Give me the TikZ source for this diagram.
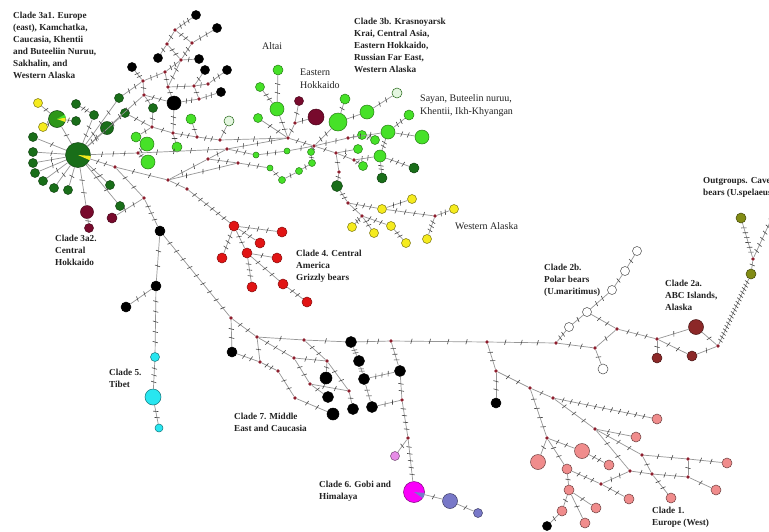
\documentclass[tikz,border=0pt]{standalone}
\usepackage{fontspec}
\setmainfont{Liberation Serif}
\usetikzlibrary{decorations.markings}
\definecolor{cEdge}{RGB}{150,150,150}
\definecolor{cTick}{RGB}{70,70,70}
\definecolor{cMed}{RGB}{140,30,45}
\definecolor{cDG}{RGB}{25,110,25}
\definecolor{cMG2}{RGB}{45,150,25}
\definecolor{cLG}{RGB}{70,225,40}
\definecolor{cPG}{RGB}{228,246,224}
\definecolor{cYe}{RGB}{245,235,30}
\definecolor{cMa}{RGB}{120,10,45}
\definecolor{cRe}{RGB}{225,20,20}
\definecolor{cSa}{RGB}{240,140,140}
\definecolor{cCy}{RGB}{40,230,240}
\definecolor{cMg}{RGB}{250,0,250}
\definecolor{cPb}{RGB}{120,120,200}
\definecolor{cPk}{RGB}{230,140,230}
\definecolor{cOl}{RGB}{130,140,20}
\definecolor{cAB}{RGB}{140,40,40}
\definecolor{cTx}{RGB}{35,35,35}
\tikzset{
  hap/.style={circle, inner sep=0pt, minimum size=9pt, line width=0.5pt},
  dm/.style={minimum size=#1pt},
  med/.style={circle, inner sep=0pt, minimum size=3.8pt, fill=cMed},
  DGs/.style={hap, fill=cDG, draw=cDG!60!black},
  MG2s/.style={hap, fill=cMG2, draw=cDG!60!black},
  LGs/.style={hap, fill=cLG, draw=cLG!55!black},
  PGs/.style={hap, fill=cPG, draw=cLG!45!black},
  YEs/.style={hap, fill=cYe, draw=cYe!50!black},
  MAs/.style={hap, fill=cMa, draw=cMa!60!black},
  REs/.style={hap, fill=cRe, draw=cRe!60!black},
  SAs/.style={hap, fill=cSa, draw=cSa!45!black},
  CYs/.style={hap, fill=cCy, draw=cCy!50!black},
  MGs/.style={hap, fill=cMg, draw=cMg!50!black},
  PBs/.style={hap, fill=cPb, draw=cPb!50!black},
  PKs/.style={hap, fill=cPk, draw=cPk!50!black},
  OLs/.style={hap, fill=cOl, draw=cOl!50!black},
  ABs/.style={hap, fill=cAB, draw=cAB!50!black},
  WHs/.style={hap, fill=white, draw=black!70},
  BKs/.style={hap, fill=black, draw=black},
  ln/.style={draw=cEdge, line width=0.7pt},
  mu/.style={postaction={decorate, decoration={markings,
     mark=between positions {1/(#1+1)} and {(#1+0.5)/(#1+1)} step {1/(#1+1)}
     with {\draw[cTick, line width=0.6pt] (-0.7pt,-2.6pt) -- (0.7pt,2.6pt);}}}},
  lab/.style={font=\fontsize{9.2}{12}\selectfont\bfseries, text=cTx, align=left, inner sep=0pt, anchor=north west},
  labr/.style={font=\fontsize{10}{13}\selectfont, text=cTx, align=left, inner sep=0pt, anchor=north west},
}
\newcommand\ed[3]{\draw[ln,mu=#3] (#1) -- (#2);}
\newcommand\edz[2]{\draw[ln] (#1) -- (#2);}
\begin{document}
\begin{tikzpicture}[x=1pt,y=-1pt]
\fill[white] (0,0) rectangle (769,531);
\useasboundingbox (0,0) rectangle (769,531);

% ---------- top black lattice
\node[med] (mA) at (175,30) {};
\node[med] (mB) at (167,44) {};
\node[med] (mC) at (192,43) {};
\node[med] (mD) at (181,60) {};
\node[med] (mE) at (165,72) {};
\node[med] (mF) at (143,81) {};
\node[med] (mG) at (168,87) {};
\node[med] (mH) at (194,86) {};
\node[med] (mJ) at (208,84) {};
\node[med] (mI) at (144,95) {};
\node[med] (mK) at (199,99) {};
\node[BKs] (b1) at (196,15) {};
\node[BKs] (b2) at (217,28) {};
\node[BKs] (b3) at (158,58) {};
\node[BKs] (b4) at (199,59) {};
\node[BKs] (b5) at (132,67) {};
\node[BKs] (b6) at (205,70) {};
\node[BKs] (b7) at (227,70) {};
\node[BKs] (b8) at (221,92) {};
\node[BKs,dm=14] (b9) at (174,103) {};

% ---------- left cluster
\node[DGs,dm=25] (P) at (78,155) {};
\node[MG2s,dm=17] (P2) at (57,119) {};
\node[YEs] (y1) at (38,103) {};
\node[YEs] (y2) at (43,127) {};
\node[DGs] (g1) at (33,137) {};
\node[DGs] (g2) at (33,152) {};
\node[DGs] (g3) at (33,163) {};
\node[DGs] (g4) at (35,173) {};
\node[DGs] (g5) at (43,181) {};
\node[DGs] (g6) at (54,188) {};
\node[DGs] (g7) at (68,190) {};
\node[DGs] (g8) at (76,104) {};
\node[DGs] (g9) at (76,121) {};
\node[DGs] (g10) at (94,115) {};
\node[DGs,dm=13] (g11) at (107,128) {};
\node[DGs] (g12) at (119,98) {};
\node[DGs] (g13) at (125,113) {};
\node[DGs] (g14) at (153,108) {};
\node[DGs] (g15) at (110,185) {};
\node[DGs] (g16) at (120,206) {};
\node[MAs,dm=13] (r1) at (87,212) {};
\node[MAs,dm=9] (r2) at (89,228) {};
\node[MAs,dm=10] (r3) at (112,218) {};

\node[med] (mL1) at (115,167) {};
\node[med] (mL2) at (138,153) {};
\node[med] (mL3) at (152,127) {};
\node[med] (mL4) at (173,133) {};
\node[med] (mL5) at (197,137) {};
\node[med] (mL6) at (220,140) {};
\node[med] (mL7) at (208,159) {};
\node[med] (mL8) at (238,163) {};
\node[med] (mL9) at (168,180) {};
\node[med] (mL10) at (144,198) {};
\node[med] (mL11) at (187,189) {};
\node[med] (mL12) at (227,149) {};
\node[LGs,dm=10] (lg1) at (136,137) {};
\node[LGs,dm=14] (lg2) at (147,144) {};
\node[LGs,dm=14] (lg3) at (148,162) {};
\node[LGs,dm=10] (lg4) at (177,147) {};
\node[LGs,dm=10] (lg5) at (191,119) {};
\node[PGs,dm=10] (pg1) at (229,121) {};

% ---------- upper middle green cluster
\node[LGs,dm=10] (G1) at (278,70) {};
\node[LGs] (G2) at (260,87) {};
\node[LGs,dm=14] (G3) at (277,109) {};
\node[LGs] (G4) at (258,118) {};
\node[MAs,dm=9] (M1) at (299,101) {};
\node[MAs,dm=16] (M2) at (316,117) {};
\node[LGs,dm=10] (G5) at (345,99) {};
\node[LGs,dm=18] (G6) at (338,122) {};
\node[LGs,dm=14] (G7) at (367,112) {};
\node[PGs,dm=10] (pg2) at (397,93) {};
\node[LGs,dm=10] (G8) at (409,115) {};
\node[LGs,dm=14] (G9) at (388,132) {};
\node[LGs,dm=14] (G10) at (422,137) {};
\node[LGs] (G11) at (362,135) {};
\node[LGs] (G12) at (375,140) {};
\node[LGs] (G13) at (358,149) {};
\node[LGs,dm=12] (G14) at (380,156) {};
\node[LGs] (G15) at (363,166) {};
\node[LGs,dm=7] (sm1) at (311,152) {};
\node[LGs,dm=7] (sm2) at (312,163) {};
\node[LGs,dm=7] (sm3) at (299,171) {};
\node[LGs,dm=7] (sm4) at (282,180) {};
\node[LGs,dm=6] (sm5) at (270,168) {};
\node[LGs,dm=6] (sm6) at (256,155) {};
\node[LGs,dm=6] (sm7) at (287,151) {};
\node[DGs,dm=11] (DG1) at (337,186) {};
\node[DGs,dm=10] (DG2) at (382,178) {};
\node[DGs,dm=10] (DG3) at (414,168) {};
\node[med] (mU1) at (295,123) {};
\node[med] (mU2) at (288,138) {};
\node[med] (mU3) at (314,146) {};
\node[med] (mU4) at (336,153) {};
\node[med] (mU5) at (348,138) {};
\node[med] (mU6) at (354,160) {};
\node[med] (mU7) at (339,172) {};

% ---------- yellow (Western Alaska)
\node[YEs] (Y1) at (412,199) {};
\node[YEs] (Y2) at (382,209) {};
\node[YEs] (Y3) at (454,209) {};
\node[YEs] (Y4) at (391,226) {};
\node[YEs] (Y5) at (352,227) {};
\node[YEs] (Y6) at (374,233) {};
\node[YEs] (Y7) at (406,243) {};
\node[YEs] (Y8) at (427,239) {};
\node[med] (mY1) at (348,203) {};
\node[med] (mY2) at (362,216) {};
\node[med] (mY3) at (435,216) {};

% ---------- red (clade 4)
\node[REs,dm=10] (R1) at (234,226) {};
\node[REs,dm=10] (R2) at (282,232) {};
\node[REs,dm=10] (R3) at (260,243) {};
\node[REs,dm=10] (R4) at (247,253) {};
\node[REs,dm=10] (R5) at (222,258) {};
\node[REs,dm=10] (R6) at (277,258) {};
\node[REs,dm=10] (R7) at (252,287) {};
\node[REs,dm=10] (R8) at (283,284) {};
\node[REs,dm=10] (R9) at (307,302) {};

% ---------- Tibet
\node[BKs,dm=10] (b10) at (160,231) {};
\node[BKs,dm=10] (b11) at (156,286) {};
\node[BKs,dm=10] (b12) at (126,307) {};
\node[CYs,dm=9] (C1) at (155,357) {};
\node[CYs,dm=16] (C2) at (153,397) {};
\node[CYs,dm=8] (C3) at (159,428) {};

% ---------- clade 7
\node[med] (mD1) at (231,318) {};
\node[med] (mD2) at (257,337) {};
\node[med] (mD3) at (304,340) {};
\node[med] (mD4) at (391,341) {};
\node[med] (mD5) at (260,362) {};
\node[med] (mD6) at (278,371) {};
\node[med] (mD7) at (294,358) {};
\node[med] (mD8) at (327,361) {};
\node[med] (mD9) at (310,384) {};
\node[med] (mD10) at (295,398) {};
\node[med] (mD11) at (349,391) {};
\node[med] (mD12) at (402,400) {};
\node[med] (mD13) at (408,438) {};
\node[BKs,dm=11] (b13) at (351,342) {};
\node[BKs,dm=10] (b14) at (232,352) {};
\node[BKs,dm=12] (b15) at (326,378) {};
\node[BKs,dm=11] (b16) at (328,397) {};
\node[BKs,dm=11] (b17) at (353,409) {};
\node[BKs,dm=12] (b18) at (333,414) {};
\node[BKs,dm=11] (b19) at (359,361) {};
\node[BKs,dm=11] (b20) at (364,379) {};
\node[BKs,dm=11] (b21) at (372,407) {};
\node[BKs,dm=11] (b22) at (400,371) {};
\node[BKs,dm=10] (b23) at (496,403) {};
\node[PKs,dm=9] (pk) at (395,456) {};
\node[MGs,dm=21] (mg) at (414,492) {};
\node[PBs,dm=15] (pb1) at (450,501) {};
\node[PBs,dm=9] (pb2) at (478,513) {};

% ---------- backbone right, polar, ABC, outgroups
\node[med] (mE1) at (487,342) {};
\node[med] (mE2) at (496,371) {};
\node[med] (mE3) at (556,343) {};
\node[med] (mE4) at (595,348) {};
\node[med] (mE5) at (617,329) {};
\node[med] (mE6) at (657,339) {};
\node[med] (mE7) at (718,346) {};
\node[WHs] (pl1) at (569,327) {};
\node[WHs] (pl2) at (587,312) {};
\node[WHs] (pl3) at (612,290) {};
\node[WHs] (pl4) at (625,271) {};
\node[WHs] (pl5) at (637,251) {};
\node[WHs,dm=10] (pl6) at (603,369) {};
\node[ABs,dm=15] (A1) at (696,327) {};
\node[ABs,dm=10] (A2) at (657,358) {};
\node[ABs,dm=10] (A3) at (692,356) {};
\node[OLs,dm=10] (O1) at (741,218) {};
\node[med] (mO) at (753,259) {};
\node[OLs,dm=10] (O2) at (751,274) {};
\coordinate (Oedge) at (782,196);

% ---------- clade 1
\node[med] (mF1) at (530,388) {};
\node[med] (mF2) at (553,398) {};
\node[med] (mF3) at (595,429) {};
\node[med] (mF4) at (642,455) {};
\node[med] (mF5) at (688,459) {};
\node[med] (mF6) at (688,477) {};
\node[med] (mF7) at (652,474) {};
\node[med] (mF8) at (630,471) {};
\node[med] (mF9) at (547,438) {};
\node[med] (mF10) at (601,484) {};
\node[SAs,dm=10] (S1) at (657,419) {};
\node[SAs,dm=10] (S2) at (636,437) {};
\node[SAs,dm=10] (S3) at (727,463) {};
\node[SAs,dm=10] (S4) at (716,490) {};
\node[SAs,dm=10] (S5) at (671,498) {};
\node[SAs,dm=15] (S6) at (582,451) {};
\node[SAs,dm=15] (S7) at (538,462) {};
\node[SAs,dm=10] (S8) at (567,469) {};
\node[SAs,dm=10] (S9) at (609,465) {};
\node[SAs,dm=10] (S10) at (629,499) {};
\node[SAs,dm=10] (S11) at (569,490) {};
\node[SAs,dm=10] (S12) at (562,511) {};
\node[SAs,dm=10] (S13) at (596,508) {};
\node[SAs,dm=10] (S14) at (585,523) {};
\node[BKs,dm=9] (b24) at (547,526) {};

% ---------- pie wedges
\fill[cYe] (P.center) -- (P.-4) -- (P.-14) -- (P.-24) -- cycle;
\fill[cYe] (P2.center) -- (P2.10) -- (P2.-5) -- (P2.-20) -- cycle;
\fill[cLG] (P2.center) -- (P2.30) -- (P2.20) -- (P2.10) -- cycle;
\fill[cPb] (mg.center) -- (mg.-5) -- (mg.-20) -- (mg.-35) -- cycle;

% ================= edges
% black lattice
\ed{b1}{mA}{3} \ed{mA}{mB}{1} \ed{mA}{mC}{2} \ed{mC}{b2}{2}
\ed{mC}{mD}{2} \ed{mB}{mD}{2} \ed{mB}{b3}{1} \ed{mD}{b4}{1}
\ed{mD}{mE}{2} \ed{mD}{mG}{2} \ed{mE}{mF}{2} \ed{mF}{b5}{2}
\ed{mE}{mG}{1} \ed{mF}{mI}{1} \ed{mG}{mH}{2} \ed{mH}{b6}{1}
\ed{mH}{mJ}{1} \ed{mJ}{b7}{2} \ed{mH}{mK}{1} \ed{mK}{b8}{2}
\ed{mG}{b9}{1} \ed{mK}{b9}{2} \ed{mI}{g11}{3} \ed{mF}{g12}{2}
\ed{mI}{b9}{2} \ed{b9}{mL4}{2} \ed{mI}{g14}{1}

% left cluster
\ed{P}{g1}{1} \ed{P}{g2}{1} \ed{P}{g3}{1} \ed{P}{g4}{1}
\ed{P}{g5}{1} \ed{P}{g6}{1} \ed{P}{g7}{1} \ed{P}{P2}{1}
\ed{P2}{y1}{1} \ed{P2}{y2}{1} \ed{P2}{g9}{1} \ed{g8}{g10}{2}
\ed{g10}{P}{2} \ed{g11}{P}{2} \ed{g12}{P}{3} \ed{g13}{P}{3}
\ed{P}{g15}{2} \ed{P}{g16}{2} \ed{P}{r1}{2} \ed{r1}{r2}{1}
\ed{r3}{mL10}{2}
\ed{P}{mL1}{2} \ed{P}{mL2}{3} \ed{mL1}{mL9}{2} \ed{mL1}{mL10}{2}
\ed{mL9}{mL11}{1} \ed{mL11}{R1}{6} \ed{mL9}{mL8}{3}
\ed{mL2}{mL12}{4} \ed{mL12}{mU2}{3} \ed{mL3}{mL4}{1}
\ed{mL4}{mL5}{2} \ed{mL5}{mL6}{2} \ed{mL6}{pg1}{1} \ed{mL6}{mU2}{3}
\ed{mL3}{g14}{1} \ed{mL3}{g13}{2} \ed{mL5}{lg5}{1} \ed{mL4}{lg4}{1}
\ed{mL7}{mL12}{1} \ed{mL7}{mL8}{2} \ed{mL7}{mL9}{2}
\ed{mL2}{lg2}{1} \ed{mL2}{lg3}{1} \ed{mL3}{lg1}{1}
\ed{mL10}{b10}{3}
\ed{mL8}{sm5}{2} \ed{mL12}{sm6}{2} \ed{sm6}{sm7}{2} \ed{sm7}{mU3}{1}
\ed{sm5}{sm4}{1} \ed{sm4}{sm3}{1} \ed{sm3}{sm2}{1} \ed{sm2}{sm1}{1} \ed{sm1}{mU3}{1}

% upper green
\ed{G1}{G3}{2} \ed{G2}{G3}{2} \ed{G3}{mU2}{2} \ed{G4}{mU2}{2}
\ed{M1}{mU1}{1} \ed{M2}{mU1}{1} \ed{mU1}{mU2}{1} \ed{mU2}{mU3}{2}
\ed{mU3}{G6}{2} \ed{G5}{G6}{1} \ed{G7}{G6}{1} \ed{pg2}{G7}{2}
\ed{mU3}{mU5}{2} \ed{mU5}{G11}{1} \ed{G11}{G12}{1} \ed{mU5}{G9}{2}
\ed{G9}{G8}{2} \ed{G9}{G10}{2} \ed{G9}{G14}{2} \ed{G14}{DG2}{2}
\ed{G14}{DG3}{3} \ed{mU3}{mU4}{1} \ed{mU4}{G13}{1} \ed{mU4}{mU6}{1}
\ed{mU6}{G15}{1} \ed{mU6}{G14}{2} \ed{mU4}{mU7}{1} \ed{mU7}{DG1}{1}

% yellow
\ed{DG1}{mY1}{2} \ed{mY1}{Y2}{3} \ed{mY1}{mY2}{1} \ed{mY2}{Y5}{2}
\ed{mY2}{Y6}{2} \ed{mY2}{Y4}{3} \ed{Y4}{Y7}{2} \ed{Y2}{Y1}{2}
\ed{Y2}{mY3}{4} \ed{mY3}{Y3}{2} \ed{mY3}{Y8}{3}

% red
\ed{R1}{R2}{3} \ed{R1}{R5}{3} \ed{R1}{R3}{2} \ed{R1}{R4}{2}
\ed{R4}{R6}{1} \ed{R4}{R7}{3} \ed{R4}{R8}{3} \ed{R8}{R9}{2}

% Tibet
\ed{b10}{b11}{2} \ed{b11}{b12}{2} \ed{b11}{C1}{5} \ed{C1}{C2}{3} \ed{C2}{C3}{2}
\ed{b10}{mD1}{9}

% clade 7
\ed{mD1}{b14}{2} \ed{mD1}{mD2}{2} \ed{b14}{mD5}{2} \ed{mD2}{mD5}{1}
\ed{mD5}{mD6}{2} \ed{mD2}{mD3}{1} \ed{mD3}{b13}{1} \ed{b13}{mD4}{2}
\ed{mD2}{mD7}{3} \ed{mD6}{mD10}{2} \ed{mD7}{mD8}{2} \ed{mD3}{mD8}{2}
\ed{mD7}{mD9}{2} \ed{mD8}{mD11}{2} \ed{mD9}{mD11}{2} \ed{mD10}{b18}{2}
\ed{mD11}{b17}{1} \ed{mD9}{b16}{1} \ed{mD8}{b15}{1}
\ed{b13}{b19}{2} \ed{b19}{b20}{2} \ed{b20}{b21}{2} \ed{b20}{b22}{3}
\ed{mD4}{b22}{3} \ed{b22}{mD12}{2} \ed{b21}{mD12}{2} \ed{mD12}{mD13}{4}
\ed{mD13}{pk}{1} \ed{mD13}{mg}{5} \ed{mg}{pb1}{1} \ed{pb1}{pb2}{1}

% backbone right
\ed{mD4}{mE1}{4} \ed{mE1}{mE2}{2} \ed{mE2}{b23}{2} \ed{mE1}{mE3}{3}
\ed{mE3}{pl1}{2} \ed{pl1}{pl2}{1} \ed{pl2}{pl3}{2} \ed{pl3}{pl4}{1}
\ed{pl4}{pl5}{1} \ed{pl2}{mE5}{2} \ed{mE3}{mE4}{2} \ed{mE4}{mE5}{1}
\ed{mE4}{pl6}{1} \ed{mE5}{mE6}{3} \ed{mE6}{A1}{1} \ed{mE6}{A2}{1}
\ed{mE6}{A3}{2} \ed{A3}{mE7}{1} \ed{A1}{mE7}{1}
\ed{mE7}{O2}{18} \ed{O2}{mO}{1} \ed{mO}{O1}{6} \ed{mO}{Oedge}{9}

% clade 1
\ed{mE2}{mF1}{2} \ed{mF1}{mF2}{1} \ed{mF2}{S1}{11} \ed{mF2}{mF3}{3}
\ed{mF3}{S2}{2} \ed{mF3}{mF4}{3} \ed{mF4}{mF5}{2} \ed{mF5}{S3}{2}
\ed{mF5}{mF6}{1} \ed{mF6}{S4}{1} \ed{mF4}{mF7}{1} \ed{mF7}{mF6}{2}
\ed{mF7}{S5}{2} \ed{mF8}{mF7}{1} \ed{mF3}{mF8}{2} \ed{mF1}{mF9}{4}
\ed{mF9}{S6}{2} \ed{mF9}{S7}{1} \ed{mF9}{S8}{2} \ed{S6}{S9}{2}
\ed{S8}{mF10}{3} \ed{mF10}{S10}{2} \ed{mF10}{mF8}{2} \ed{S8}{S11}{1}
\ed{S11}{S12}{1} \ed{S11}{S13}{1} \ed{S11}{S14}{1} \ed{S12}{b24}{1}

% ================= labels
\node[lab] (t1) at (13,12) {Clade 3a1. Europe\\(east), Kamchatka,\\Caucasia, Khentii\\and Buteeliin Nuruu,\\Sakhalin, and\\Western Alaska};
\node[lab] (t2) at (354,18) {Clade 3b. Krasnoyarsk\\Krai, Central Asia,\\Eastern Hokkaido,\\Russian Far East,\\Western Alaska};
\node[labr] (t3) at (262,42) {Altai};
\node[labr] (t4) at (300,69) {Eastern\\Hokkaido};
\node[labr] (t5) at (420,94) {Sayan, Buteelin nuruu,\\Khentii, Ikh-Khyangan};
\node[labr] (t6) at (455,222) {Western Alaska};
\node[lab] (t7) at (55,235) {Clade 3a2.\\Central\\Hokkaido};
\node[lab] (t8) at (296,250) {Clade 4. Central\\America\\Grizzly bears};
\node[lab] (t9) at (109,369) {Clade 5.\\Tibet};
\node[lab] (t10) at (234,413) {Clade 7. Middle\\East and Caucasia};
\node[lab] (t11) at (319,481) {Clade 6. Gobi and\\Himalaya};
\node[lab] (t12) at (544,264) {Clade 2b.\\Polar bears\\(U.maritimus)};
\node[lab] (t13) at (665,280) {Clade 2a.\\ABC Islands,\\Alaska};
\node[lab] (t14) at (703,177) {Outgroups. Cave\\bears (U.spelaeus)};
\node[lab] (t15) at (652,507) {Clade 1.\\Europe (West)};
\end{tikzpicture}
\end{document}
